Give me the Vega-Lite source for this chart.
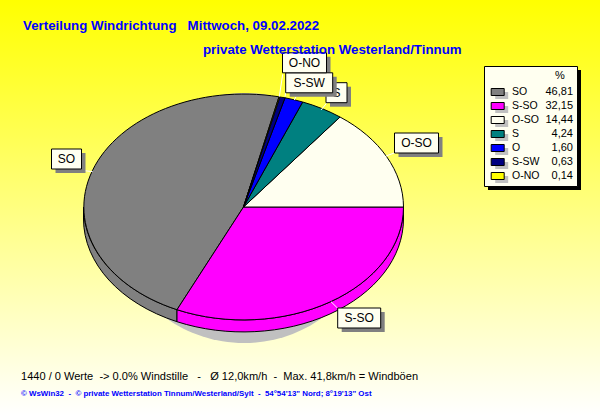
{"$schema":"https://vega.github.io/schema/vega-lite/v6.json","width":600,"height":415,"padding":0,"autosize":{"type":"none"},"config":{"view":{"stroke":null},"text":{"font":"Liberation Sans"}},
"datasets":{"wind":[{"dir":"SO","pct":46.81,"pctText":"46,81"},{"dir":"S-SO","pct":32.15,"pctText":"32,15"},{"dir":"O-SO","pct":14.44,"pctText":"14,44"},{"dir":"S","pct":4.24,"pctText":"4,24"},{"dir":"O","pct":1.6,"pctText":"1,60"},{"dir":"S-SW","pct":0.63,"pctText":"0,63"},{"dir":"O-NO","pct":0.14,"pctText":"0,14"}]},
"resolve":{"scale":{"x":"independent","y":"independent","color":"independent","shape":"independent"}},
"layer":[
{"data":{"values":[{"part":"background"}]},"mark":{"type":"rect","fill":{"gradient":"linear","x1":0,"y1":0,"x2":0,"y2":1,"stops":[{"offset":0,"color":"#FFFF00"},{"offset":1,"color":"#FFFFFF"}]}},"encoding":{"x":{"datum":0,"type":"quantitative","scale":{"domain":[0,600],"nice":false,"zero":false},"axis":null},"x2":{"datum":600},"y":{"datum":0,"type":"quantitative","scale":{"domain":[415,0],"nice":false,"zero":false},"axis":null},"y2":{"datum":415}}},
{"data":{"values":[{"part":"pie shadow"}]},"mark":{"type":"point","filled":true,"opacity":1,"size":4,"fill":"#C0C0C0","strokeWidth":0,"shape":"M-130 0A130 125 0 1 1 130 0A130 125 0 1 1 -130 0Z"},"encoding":{"x":{"datum":244,"type":"quantitative","scale":{"domain":[0,600],"nice":false,"zero":false},"axis":null},"y":{"datum":218,"type":"quantitative","scale":{"domain":[415,0],"nice":false,"zero":false},"axis":null}}},
{"data":{"name":"wind"},"transform":[{"filter":"datum.pct > 30"}],"mark":{"type":"point","filled":true,"opacity":1,"size":4,"stroke":"#000000","strokeWidth":1},"encoding":{"x":{"datum":243.5,"type":"quantitative","scale":{"domain":[0,600],"nice":false,"zero":false},"axis":null},"y":{"datum":207,"type":"quantitative","scale":{"domain":[415,0],"nice":false,"zero":false},"axis":null},"color":{"field":"dir","type":"nominal","legend":null,"scale":{"domain":["SO","S-SO"],"range":["#808080","#FF00FF"]}},"shape":{"field":"dir","type":"nominal","legend":null,"scale":{"domain":["SO","S-SO"],"range":["M-66.5 102.7A160 113 0 0 1 -160 0L-160 12A160 113 0 0 0 -66.5 114.7Z","M160 0A160 113 0 0 1 -66.5 102.7L-66.5 114.7A160 113 0 0 0 160 12Z"]}}}},
{"data":{"name":"wind"},"mark":{"type":"point","filled":true,"opacity":1,"size":4,"stroke":"#000000","strokeWidth":1},"encoding":{"x":{"datum":243.5,"type":"quantitative","scale":{"domain":[0,600],"nice":false,"zero":false},"axis":null},"y":{"datum":207,"type":"quantitative","scale":{"domain":[415,0],"nice":false,"zero":false},"axis":null},"color":{"field":"dir","type":"nominal","legend":null,"scale":{"domain":["SO","S-SO","O-SO","S","O","S-SW","O-NO"],"range":["#808080","#FF00FF","#FFFFF0","#008080","#0000FF","#000080","#FFFF00"]}},"shape":{"field":"dir","type":"nominal","legend":null,"scale":{"domain":["SO","S-SO","O-SO","S","O","S-SW","O-NO"],"range":["M0 0L-66.5 102.7A160 113 0 0 1 35.5 -110.2Z","M0 0L160 0A160 113 0 0 1 -66.5 102.7Z","M0 0L96.5 -90A160 113 0 0 1 160 0Z","M0 0L59.2 -105A160 113 0 0 1 96.5 -90Z","M0 0L41.5 -109.2A160 113 0 0 1 59.2 -105Z","M0 0L36.3 -110A160 113 0 0 1 41.5 -109.2Z","M0 0L35.5 -110.2A160 113 0 0 1 36.3 -110Z"]}}}},
{"data":{"name":"wind"},"mark":{"type":"point","filled":false,"opacity":1,"size":4,"stroke":"#FFFFFF","strokeWidth":1},"encoding":{"x":{"datum":243.5,"type":"quantitative","scale":{"domain":[0,600],"nice":false,"zero":false},"axis":null},"y":{"datum":207,"type":"quantitative","scale":{"domain":[415,0],"nice":false,"zero":false},"axis":null},"shape":{"field":"dir","type":"nominal","legend":null,"scale":{"domain":["SO","S-SO","O-SO","S","O","S-SW","O-NO"],"range":["M-158.5 -36.3L-150.8 -35.3","M87.5 94.7L94.2 101.3","M151.5 -54.3L142.5 -51","M83.8 -104.7L77.5 -97","M52.5 -110.3L50.8 -107","M43.2 -120L41.5 -110.3","M39.2 -132.7L35.8 -110.3"]}}}},
{"data":{"name":"wind"},"transform":[{"filter":"datum.dir === 'S'"}],"mark":{"type":"point","filled":true,"opacity":1,"size":4,"fill":"#808080","strokeWidth":0},"encoding":{"x":{"field":"pct","type":"quantitative","axis":null,"scale":{"domain":[0.14,0.63,4.24,14.44,32.15,46.81],"range":[304.5,309.2,336.5,416.5,359.2,66.5],"nice":false,"zero":false}},"y":{"field":"pct","type":"quantitative","axis":null,"scale":{"domain":[0.14,0.63,4.24,14.44,32.15,46.81],"range":[62.8,82.8,92.7,143,318,159],"nice":false,"zero":false}},"shape":{"field":"dir","type":"nominal","legend":null,"scale":{"domain":["S"],"range":["M-6.5 -6H14.5V14H-6.5Z"]}}}},
{"data":{"name":"wind"},"transform":[{"filter":"datum.dir === 'S'"}],"mark":{"type":"point","filled":true,"opacity":1,"size":4,"fill":"#FFFFF0","stroke":"#000000","strokeWidth":1},"encoding":{"x":{"field":"pct","type":"quantitative","axis":null,"scale":{"domain":[0.14,0.63,4.24,14.44,32.15,46.81],"range":[304.5,309.2,336.5,416.5,359.2,66.5],"nice":false,"zero":false}},"y":{"field":"pct","type":"quantitative","axis":null,"scale":{"domain":[0.14,0.63,4.24,14.44,32.15,46.81],"range":[62.8,82.8,92.7,143,318,159],"nice":false,"zero":false}},"shape":{"field":"dir","type":"nominal","legend":null,"scale":{"domain":["S"],"range":["M-10.5 -10H10.5V10H-10.5Z"]}}}},
{"data":{"name":"wind"},"transform":[{"filter":"datum.dir === 'S'"}],"mark":{"type":"text","fontSize":12,"align":"center","baseline":"middle","color":"#000000"},"encoding":{"text":{"field":"dir"},"x":{"field":"pct","type":"quantitative","axis":null,"scale":{"domain":[0.14,0.63,4.24,14.44,32.15,46.81],"range":[304.5,309.2,336.5,416.5,359.2,66.5],"nice":false,"zero":false}},"y":{"field":"pct","type":"quantitative","axis":null,"scale":{"domain":[0.14,0.63,4.24,14.44,32.15,46.81],"range":[62.8,82.8,92.7,143,318,159],"nice":false,"zero":false}}}},
{"data":{"name":"wind"},"transform":[{"filter":"datum.dir !== 'S' && datum.dir !== 'O'"}],"mark":{"type":"point","filled":true,"opacity":1,"size":4,"fill":"#808080","strokeWidth":0},"encoding":{"x":{"field":"pct","type":"quantitative","axis":null,"scale":{"domain":[0.14,0.63,4.24,14.44,32.15,46.81],"range":[304.5,309.2,336.5,416.5,359.2,66.5],"nice":false,"zero":false}},"y":{"field":"pct","type":"quantitative","axis":null,"scale":{"domain":[0.14,0.63,4.24,14.44,32.15,46.81],"range":[62.8,82.8,92.7,143,318,159],"nice":false,"zero":false}},"shape":{"field":"dir","type":"nominal","legend":null,"scale":{"domain":["SO","S-SO","O-SO","S-SW","O-NO"],"range":["M-11 -6H19V14H-11Z","M-17.5 -6H25.5V14H-17.5Z","M-18 -6H26V14H-18Z","M-19.5 -6H27.5V14H-19.5Z","M-18 -6H26V14H-18Z"]}}}},
{"data":{"name":"wind"},"transform":[{"filter":"datum.dir !== 'S' && datum.dir !== 'O'"}],"mark":{"type":"point","filled":true,"opacity":1,"size":4,"fill":"#FFFFF0","stroke":"#000000","strokeWidth":1},"encoding":{"x":{"field":"pct","type":"quantitative","axis":null,"scale":{"domain":[0.14,0.63,4.24,14.44,32.15,46.81],"range":[304.5,309.2,336.5,416.5,359.2,66.5],"nice":false,"zero":false}},"y":{"field":"pct","type":"quantitative","axis":null,"scale":{"domain":[0.14,0.63,4.24,14.44,32.15,46.81],"range":[62.8,82.8,92.7,143,318,159],"nice":false,"zero":false}},"shape":{"field":"dir","type":"nominal","legend":null,"scale":{"domain":["SO","S-SO","O-SO","S-SW","O-NO"],"range":["M-15 -10H15V10H-15Z","M-21.5 -10H21.5V10H-21.5Z","M-22 -10H22V10H-22Z","M-23.5 -10H23.5V10H-23.5Z","M-22 -10H22V10H-22Z"]}}}},
{"data":{"name":"wind"},"transform":[{"filter":"datum.dir !== 'S' && datum.dir !== 'O'"}],"mark":{"type":"text","fontSize":12,"align":"center","baseline":"middle","color":"#000000"},"encoding":{"text":{"field":"dir"},"x":{"field":"pct","type":"quantitative","axis":null,"scale":{"domain":[0.14,0.63,4.24,14.44,32.15,46.81],"range":[304.5,309.2,336.5,416.5,359.2,66.5],"nice":false,"zero":false}},"y":{"field":"pct","type":"quantitative","axis":null,"scale":{"domain":[0.14,0.63,4.24,14.44,32.15,46.81],"range":[62.8,82.8,92.7,143,318,159],"nice":false,"zero":false}}}},
{"data":{"values":[{"part":"legend shadow"}]},"mark":{"type":"rect","fill":"#000000"},"encoding":{"x":{"datum":488,"type":"quantitative","scale":{"domain":[0,600],"nice":false,"zero":false},"axis":null},"x2":{"datum":581},"y":{"datum":70,"type":"quantitative","scale":{"domain":[415,0],"nice":false,"zero":false},"axis":null},"y2":{"datum":190}}},
{"data":{"values":[{"part":"legend box"}]},"mark":{"type":"rect","fill":"#FFFFF0","stroke":"#000000","strokeWidth":1},"encoding":{"x":{"datum":484.5,"type":"quantitative","scale":{"domain":[0,600],"nice":false,"zero":false},"axis":null},"x2":{"datum":577.5},"y":{"datum":66.5,"type":"quantitative","scale":{"domain":[415,0],"nice":false,"zero":false},"axis":null},"y2":{"datum":186.5}}},
{"data":{"name":"wind"},"mark":{"type":"point","filled":true,"opacity":1,"size":4,"fill":"#C0C0C0","strokeWidth":0,"shape":"M-6.5 0H6.5V7H-6.5Z"},"encoding":{"x":{"datum":501.7,"type":"quantitative","scale":{"domain":[0,600],"nice":false,"zero":false},"axis":null},"y":{"field":"dir","type":"nominal","axis":null,"sort":null,"scale":{"type":"point","padding":0,"domain":["SO","S-SO","O-SO","S","O","S-SW","O-NO"],"range":[92,176]}}}},
{"data":{"name":"wind"},"mark":{"type":"point","filled":true,"opacity":1,"size":4,"stroke":"#000000","strokeWidth":1,"shape":"M-6.5 -3.5H6.5V3.5H-6.5Z"},"encoding":{"x":{"datum":497.7,"type":"quantitative","scale":{"domain":[0,600],"nice":false,"zero":false},"axis":null},"y":{"field":"dir","type":"nominal","axis":null,"sort":null,"scale":{"type":"point","padding":0,"domain":["SO","S-SO","O-SO","S","O","S-SW","O-NO"],"range":[92,176]}},"color":{"field":"dir","type":"nominal","legend":null,"scale":{"domain":["SO","S-SO","O-SO","S","O","S-SW","O-NO"],"range":["#808080","#FF00FF","#FFFFF0","#008080","#0000FF","#000080","#FFFF00"]}}}},
{"data":{"name":"wind"},"mark":{"type":"text","fontSize":10.5,"align":"left","baseline":"middle","color":"#000000"},"encoding":{"text":{"field":"dir"},"x":{"datum":512,"type":"quantitative","scale":{"domain":[0,600],"nice":false,"zero":false},"axis":null},"y":{"field":"dir","type":"nominal","axis":null,"sort":null,"scale":{"type":"point","padding":0,"domain":["SO","S-SO","O-SO","S","O","S-SW","O-NO"],"range":[92,176]}}}},
{"data":{"name":"wind"},"mark":{"type":"text","fontSize":11,"align":"right","baseline":"middle","color":"#000000"},"encoding":{"text":{"field":"pctText"},"x":{"datum":573,"type":"quantitative","scale":{"domain":[0,600],"nice":false,"zero":false},"axis":null},"y":{"field":"dir","type":"nominal","axis":null,"sort":null,"scale":{"type":"point","padding":0,"domain":["SO","S-SO","O-SO","S","O","S-SW","O-NO"],"range":[92,176]}}}},
{"data":{"values":[{"note":"%"}]},"mark":{"type":"text","fontSize":11,"align":"center","baseline":"middle","color":"#000000"},"encoding":{"text":{"field":"note"},"x":{"datum":560,"type":"quantitative","scale":{"domain":[0,600],"nice":false,"zero":false},"axis":null},"y":{"datum":76,"type":"quantitative","scale":{"domain":[415,0],"nice":false,"zero":false},"axis":null}}},
{"data":{"values":[{"note":"Verteilung Windrichtung \u00a0 Mittwoch, 09.02.2022"}]},"mark":{"type":"text","fontSize":13.3,"fontWeight":"bold","align":"left","baseline":"middle","color":"#0000FF"},"encoding":{"text":{"field":"note"},"x":{"datum":23,"type":"quantitative","scale":{"domain":[0,600],"nice":false,"zero":false},"axis":null},"y":{"datum":25.5,"type":"quantitative","scale":{"domain":[415,0],"nice":false,"zero":false},"axis":null}}},
{"data":{"values":[{"note":"private Wetterstation Westerland/Tinnum"}]},"mark":{"type":"text","fontSize":13.3,"fontWeight":"bold","align":"left","baseline":"middle","color":"#0000FF"},"encoding":{"text":{"field":"note"},"x":{"datum":203,"type":"quantitative","scale":{"domain":[0,600],"nice":false,"zero":false},"axis":null},"y":{"datum":49.5,"type":"quantitative","scale":{"domain":[415,0],"nice":false,"zero":false},"axis":null}}},
{"data":{"values":[{"note":"1440 / 0 Werte \u00a0-> 0.0% Windstille \u00a0 - \u00a0 Ø 12,0km/h \u00a0- \u00a0Max. 41,8km/h = Windböen"}]},"mark":{"type":"text","fontSize":11.05,"align":"left","baseline":"middle","color":"#000000"},"encoding":{"text":{"field":"note"},"x":{"datum":21,"type":"quantitative","scale":{"domain":[0,600],"nice":false,"zero":false},"axis":null},"y":{"datum":377,"type":"quantitative","scale":{"domain":[415,0],"nice":false,"zero":false},"axis":null}}},
{"data":{"values":[{"note":"© WsWin32 \u00a0- \u00a0© private Wetterstation Tinnum/Westerland/Sylt \u00a0- \u00a054°54'13\" Nord; 8°19'13\" Ost"}]},"mark":{"type":"text","fontSize":7.9,"fontWeight":"bold","align":"left","baseline":"middle","color":"#0000FF"},"encoding":{"text":{"field":"note"},"x":{"datum":21,"type":"quantitative","scale":{"domain":[0,600],"nice":false,"zero":false},"axis":null},"y":{"datum":394,"type":"quantitative","scale":{"domain":[415,0],"nice":false,"zero":false},"axis":null}}}
]}
